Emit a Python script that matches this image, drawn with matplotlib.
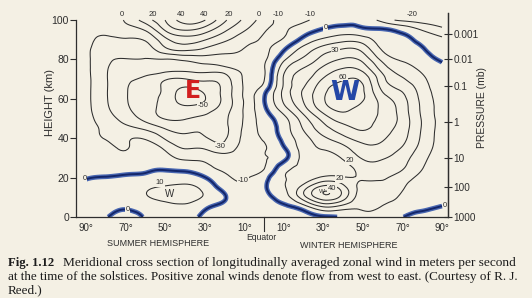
import numpy as np
import matplotlib.pyplot as plt
import matplotlib.tri as mtri
from matplotlib.patches import Polygon

plt.rcParams['contour.negative_linestyle'] = 'solid'

# latitude columns (negative = summer hemisphere) and heights in km, top row first
lats = np.arange(-90, 91, 10)
heights = np.arange(100, -1, -5)

# zonal wind (m/s): one list per latitude, from 100 km down to 0 km
wind_by_lat = [
    [-6, -7, -7, -7, -7, -7, -7, -7, -7, -7, -7, -7, -6, -5, -4, -2, -0.3, 2, 4, 4, 3],
    [-5, -8, -12, -16, -18, -19, -19, -19, -19, -18, -15, -12, -10.5, -7, -5, -3, 0.3, 3, 4, 3, 0.5],
    [1, -4, -11, -15, -20.5, -25, -28, -29, -29, -28, -24, -17, -11, -10.5, -7, -3, 1, 3, 4, 1, -2],
    [15, 1, -9, -15, -20.5, -26, -32, -36, -37, -36, -33, -22, -11, -6, -4, -1.5, 2, 8, 9, 4, 0.5],
    [30, 21, 7, -3, -20.5, -27, -39, -42, -43, -43, -40.5, -30.5, -21, -12, -6, -1, 4, 11, 12, 7, 3],
    [45, 30.5, 15, 2, -18, -28, -40.5, -52, -55, -47, -40.5, -34, -27, -20.5, -12, -3, 5, 12, 13, 8, 3],
    [40.5, 25, 10.5, -2, -15, -26, -38, -47, -50.5, -44, -38, -32, -29, -21, -12, -7, 0.5, 7, 9, 2, -2],
    [22, 12, 2, -7, -14, -24, -35, -37, -37, -35, -32, -32, -31, -26, -16, -12, -8, -4, 1, -4, -6],
    [8, 1, -6, -10.5, -14, -18, -19, -19, -19, -19, -19, -18, -17, -15, -13, -12, -10.5, -9, -8, -7, -6],
    [-5, -9, -11, -12, -12, -11, -10.5, -5, -0.5, -2, -5, -7, -9, -10.5, -10.5, -10.5, -4, -1.5, -3, -5, -6],
    [-13, -11, -9, -1, 8, 17, 21, 22, 22, 16, 7, 5, 3, -1, -3, 6, 9.5, 9, 5, -2, -5],
    [-12, -5, 3, 14, 22, 31, 36, 40.5, 41, 36, 26, 21, 16, 14, 13, 12, 13, 25, 26, 5, -3],
    [-6, 1, 12, 25, 34, 43, 51, 57, 59, 55, 44, 36, 28, 21, 17, 15, 22, 44, 46, 19, -1],
    [-4, 4, 17, 31, 41, 51, 59, 65, 66, 62, 55, 46, 37, 27, 21, 16, 21, 34, 35, 15, 1],
    [-3, 2, 15, 27, 37, 47, 57, 61, 61, 56, 53, 51, 44, 37, 31, 25, 21, 17, 14, 11, 7],
    [-14, 1, 5, 9, 17, 26, 33, 38, 45, 48, 48, 45, 41, 37, 31, 26, 21, 17, 13, 9.5, 6],
    [-22, -3, 2, 5, 9, 15, 21, 28, 33, 35, 36, 35, 33, 29, 24, 21, 15, 11, 8, 4, 0.3],
    [-25, -10.5, -3, 1, 4, 8, 12, 15, 17, 18, 19, 19, 18, 16, 13, 10.5, 7, 5, 3, 1, -2],
    [-28, -17, -8, -5, -1, 2, 4, 5, 6, 6, 6, 6, 6, 6, 5, 4, 4, 3, 2, -0.3, -4],
]

lat_ticks = [-90, -70, -50, -30, -10, 10, 30, 50, 70, 90]
height_ticks = [0, 20, 40, 60, 80, 100]
pressure_km = [92.9, 80.1, 66.3, 48.0, 30.1, 15.3, 0.0]
pressure_labels = ['0.001', '0.01', '0.1', '1', '10', '100', '1000']

# contour labels as printed on the figure: (text, lat, height)
contour_labels = [
    ('0', -72, 102.6), ('20', -56, 102.6), ('40', -42, 102.6), ('40', -30.5, 102.6),
    ('20', -18, 102.6), ('0', -2.5, 102.6), ('-10', 7, 102.6), ('-10', 23.5, 102.6),
    ('-20', 75, 102.6), ('30', 36, 84.5), ('60', 40, 71), ('20', 43.5, 28.6),
    ('20', 38.4, 19.4), ('40', 34.4, 14.3), ('-50', -31, 56.6), ('-30', -22, 36),
    ('-10', -10.6, 18.4), ('10', -52.6, 17.3),
]
zero_labels = [('0', -90.5, 19.4), ('0', -69, 3.8), ('0', 31, 96), ('0', 91.5, 5.6)]

paper = '#f4f0e4'
ink = '#2e2e2e'
blue = '#2a4ea8'
sans = 'Liberation Sans'
serif = 'Liberation Serif'

fig = plt.figure(figsize=(5.32, 2.98), dpi=100, facecolor=paper)
ax = fig.add_axes([76 / 532, 1 - 217 / 298, 372 / 532, 204 / 298])
ax.set_facecolor(paper)
ax.set_xlim(-95.06, 93.03)
ax.set_ylim(0, 103.6)

LAT, H = np.meshgrid(lats, heights)
Z = np.array(wind_by_lat).T
tri = mtri.Triangulation(LAT.ravel(), H.ravel())
tri_f, z_f = mtri.UniformTriRefiner(tri).refine_field(Z.ravel(), subdiv=3)

levels = [lv for lv in range(-60, 71, 10) if lv != 0]
ax.tricontour(tri_f, z_f, levels=levels, colors=ink, linewidths=0.75, linestyles='solid')

# the summer-side zero line near the top is plain ink, the rest is marked in blue
top_left = Polygon([(-96, 80), (-1, 80), (-1, 104), (-96, 104)], closed=True,
                   transform=ax.transData)
rest = Polygon([(-96, 0), (94, 0), (94, 104), (-1, 104), (-1, 80), (-96, 80)],
               closed=True, transform=ax.transData)
c0 = ax.tricontour(tri_f, z_f, levels=[0], colors=ink, linewidths=0.75, linestyles='solid')
c0.set_clip_path(top_left)
cb = ax.tricontour(tri_f, z_f, levels=[0], colors=blue, linewidths=3.4, alpha=0.85)
cb.set_clip_path(rest)
cb2 = ax.tricontour(tri_f, z_f, levels=[0], colors='#13266a', linewidths=1.4)
cb2.set_clip_path(rest)

box = dict(boxstyle='square,pad=0.05', fc=paper, ec='none')
for txt, la, hh in contour_labels + zero_labels:
    ax.text(la, hh, txt, fontsize=5.5, family=sans, color=ink, ha='center',
            va='center', bbox=box, zorder=5, clip_on=False)

ax.text(-47.5, 11.7, 'W', fontsize=7, family=sans, color=ink, ha='center', va='center')
ax.text(29.3, 12.8, 'W', fontsize=4.5, family=sans, color=ink, ha='center', va='center')
ax.text(-36, 64, 'E', fontsize=17, family='DejaVu Sans', weight='bold',
        color='#d21f1f', ha='center', va='center', zorder=6)
ax.text(41, 63, 'W', fontsize=19, family='DejaVu Sans', weight='bold',
        color='#2447a6', ha='center', va='center', zorder=6)

ax.spines['top'].set_visible(False)
ax.spines['left'].set_bounds(0, 100)
for s in ['left', 'bottom', 'right']:
    ax.spines[s].set_color(ink)
    ax.spines[s].set_linewidth(0.9)

ax.set_xticks(lat_ticks, ['%d\u00b0' % abs(v) for v in lat_ticks])
ax.set_yticks(height_ticks)
ax.tick_params(axis='x', length=0, labelsize=7, pad=4, labelcolor=ink)
ax.tick_params(axis='y', direction='out', length=4, width=0.8, labelsize=7.5,
               pad=1, color=ink, labelcolor=ink)
for lab in ax.get_xticklabels() + ax.get_yticklabels():
    lab.set_family(sans)

ax2 = ax.twinx()
ax2.set_ylim(ax.get_ylim())
for s in ['top', 'left', 'bottom']:
    ax2.spines[s].set_visible(False)
ax2.spines['right'].set_color(ink)
ax2.spines['right'].set_linewidth(0.9)
ax2.set_yticks(pressure_km, pressure_labels)
ax2.tick_params(axis='y', direction='inout', length=6, width=0.8, labelsize=7.2,
                pad=1, color=ink, labelcolor=ink)
for lab in ax2.get_yticklabels():
    lab.set_family(sans)

# equator marker below the axis
ax.plot([0, 0], [0, -7], color=ink, lw=0.8, clip_on=False)

fig.text(50 / 532, 1 - 102 / 298, 'HEIGHT (km)', rotation=90, ha='center', va='center',
         fontsize=8, family=sans, color=ink)
fig.text(482 / 532, 1 - 107 / 298, 'PRESSURE (mb)', rotation=90, ha='center', va='center',
         fontsize=7.5, family=sans, color=ink)
fig.text(261 / 532, 1 - 237 / 298, 'Equator', ha='center', va='center',
         fontsize=6.2, family=sans, color=ink)
fig.text(158 / 532, 1 - 243 / 298, 'SUMMER HEMISPHERE', ha='center', va='center',
         fontsize=6.5, family=sans, color=ink)
fig.text(349 / 532, 1 - 245 / 298, 'WINTER HEMISPHERE', ha='center', va='center',
         fontsize=6.5, family=sans, color=ink)

cap = '#1c1c1c'
fig.text(8 / 532, 1 - 263 / 298, 'Fig. 1.12', ha='left', va='center', fontsize=9.2,
         family=serif, weight='bold', color=cap)
fig.text(63 / 532, 1 - 263 / 298,
         'Meridional cross section of longitudinally averaged zonal wind in meters per second',
         ha='left', va='center', fontsize=9.6, family=serif, color=cap)
fig.text(8 / 532, 1 - 277 / 298,
         'at the time of the solstices. Positive zonal winds denote flow from west to east. (Courtesy of R. J.',
         ha='left', va='center', fontsize=9.45, family=serif, color=cap)
fig.text(8 / 532, 1 - 290.5 / 298, 'Reed.)', ha='left', va='center', fontsize=9.45,
         family=serif, color=cap)

fig.savefig('out.png', dpi=100, facecolor=paper)
